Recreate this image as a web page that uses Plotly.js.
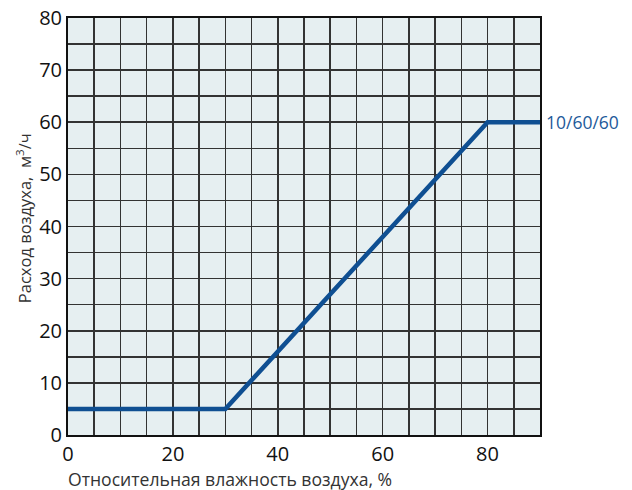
<!DOCTYPE html>
<html><head><meta charset="utf-8">
<script src="https://cdn.plot.ly/plotly-3.0.1.min.js"></script>
<style>html,body{margin:0;padding:0;background:#fff}#chart{width:632px;height:490px}</style>
</head><body><div id="chart"></div>
<script>
const humidity = [0, 30, 80, 90];
const airflow = [5, 5, 60, 60];
const seriesLabel = "10/60/60";
const xTicks = [0, 20, 40, 60, 80];
const yTicks = [0, 10, 20, 30, 40, 50, 60, 70, 80];
const xTitle = "Относительная влажность воздуха, %";
const yTitle = "Расход воздуха,  м<sup>3</sup>/ч";

const font = "Open Sans, Noto Sans, sans-serif";
const gridC = "#333";
Plotly.newPlot("chart", [{
  x: humidity, y: airflow, mode: "lines", type: "scatter",
  line: {color: "#0f4f92", width: 4.5}, hoverinfo: "none", cliponaxis: false
}], {
  width: 632, height: 490,
  margin: {l: 68, r: 92, t: 18, b: 55},
  paper_bgcolor: "#fff", plot_bgcolor: "#e6eff1",
  showlegend: false,
  font: {family: font, color: "#111"},
  xaxis: {
    range: [0, 90], tickvals: xTicks, ticktext: xTicks.map(String),
    showgrid: true, gridcolor: gridC, gridwidth: 1.6,
    minor: {dtick: 5, tick0: 0, showgrid: true, gridcolor: gridC, gridwidth: 1.6},
    showline: true, linecolor: "#111", linewidth: 2, mirror: true,
    zeroline: false, ticks: "", tickfont: {size: 20, family: font, color: "#111"}
  },
  yaxis: {
    range: [0, 80], tickvals: yTicks, ticktext: yTicks.map(String),
    showgrid: true, gridcolor: gridC, gridwidth: 1.6,
    minor: {dtick: 5, tick0: 0, showgrid: true, gridcolor: gridC, gridwidth: 1.6},
    showline: true, linecolor: "#111", linewidth: 2, mirror: true,
    zeroline: false, ticks: "", tickfont: {size: 20, family: font, color: "#111"}
  },
  annotations: [{
    x: humidity[humidity.length - 1], y: airflow[airflow.length - 1], text: seriesLabel,
    xref: "x", yref: "y", xanchor: "left", yanchor: "middle", showarrow: false,
    xshift: 4, font: {size: 17.5, family: font, color: "#1e5a9a"}
  }, {
    x: 0, y: 0, xref: "paper", yref: "paper", text: xTitle,
    xanchor: "left", yanchor: "top", yshift: -30, xshift: -2, showarrow: false,
    font: {size: 17.6, family: font, color: "#333"}
  }, {
    x: 0, y: 0.52, xref: "paper", yref: "paper", text: yTitle, textangle: -90,
    xanchor: "center", yanchor: "middle", xshift: -44, showarrow: false,
    font: {size: 16.5, family: font, color: "#333"}
  }]
}, {displayModeBar: false, staticPlot: true});
</script></body></html>
